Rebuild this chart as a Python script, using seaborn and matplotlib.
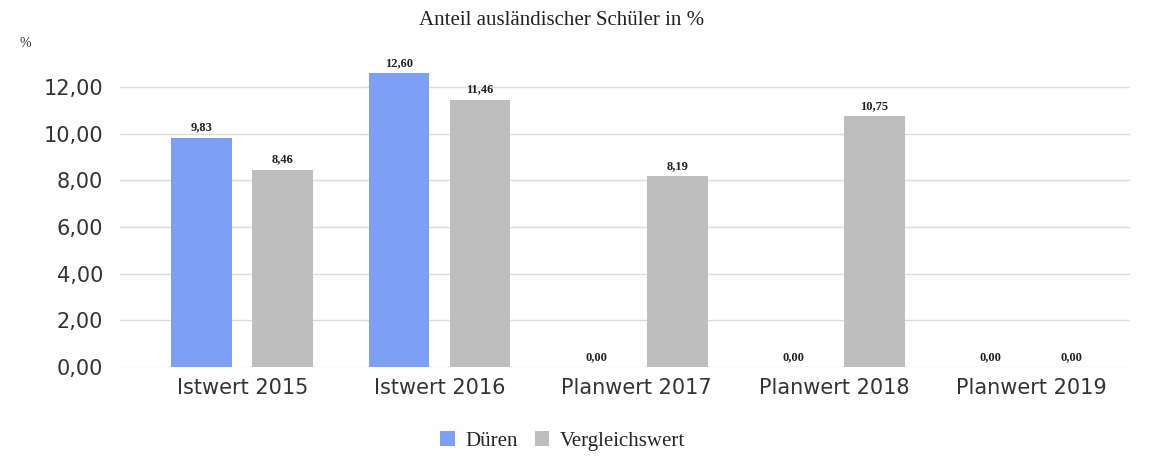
import matplotlib
matplotlib.use("Agg")
import matplotlib.pyplot as plt
import seaborn as sns
import pandas as pd
from matplotlib.ticker import FuncFormatter

categories = ["Istwert 2015", "Istwert 2016", "Planwert 2017", "Planwert 2018", "Planwert 2019"]
dueren = [9.83, 12.60, 0.00, 0.00, 0.00]
vergleich = [8.46, 11.46, 8.19, 10.75, 0.00]
series = ["Düren", "Vergleichswert"]
colors = ["#7d9ff5", "#bebebe"]

df = pd.DataFrame({
    "Kategorie": categories * 2,
    "Wert": dueren + vergleich,
    "Reihe": [series[0]] * len(categories) + [series[1]] * len(categories),
})

sns.set_theme(style="white")
fig = plt.figure(figsize=(11.53, 4.62), dpi=100)
ax = fig.add_axes([0.104, 0.206, 0.876, 0.656])

sns.barplot(data=df, x="Kategorie", y="Wert", hue="Reihe", order=categories,
            hue_order=series, palette=colors, width=0.82, gap=0.25,
            saturation=1, linewidth=0, ax=ax, legend=True)

ax.set_ylim(0, 13)
ax.set_yticks(range(0, 13, 2))
ax.yaxis.set_major_formatter(FuncFormatter(lambda v, p: f"{v:.2f}".replace(".", ",")))
ax.grid(axis="y", color="#dddddd", linewidth=1)
ax.set_axisbelow(True)
for s in ax.spines.values():
    s.set_visible(False)
ax.set_xlim(-0.62, 4.5)
ax.set_xlabel("")
ax.set_ylabel("")
ax.tick_params(axis="both", length=0, labelsize=15, colors="#333333")
ax.tick_params(axis="x", pad=8)
ax.tick_params(axis="y", pad=12)

for cont in ax.containers:
    labels = [f"{v:.2f}".replace(".", ",") for v in cont.datavalues]
    ax.bar_label(cont, labels=labels, padding=3, fontsize=9, family="Liberation Serif",
                 fontweight="bold", color="#222222")

fig.text(0.487, 0.955, "Anteil ausländischer Schüler in %", ha="center", va="center",
         fontsize=15, family="Liberation Serif", color="#222222")
fig.text(0.022, 0.905, "%", ha="center", va="center", fontsize=10,
         family="Liberation Serif", color="#333333")

handles, labs = ax.get_legend_handles_labels()
ax.legend(handles, labs, loc="center", ncol=2, frameon=False, handlelength=0.7,
          handleheight=0.7, handletextpad=0.5, columnspacing=0.8,
          prop={"family": "Liberation Serif", "size": 15})
leg = ax.get_legend()
leg.set_bbox_to_anchor((0.488, 0.045), transform=fig.transFigure)

fig.savefig("out.png", dpi=100)
